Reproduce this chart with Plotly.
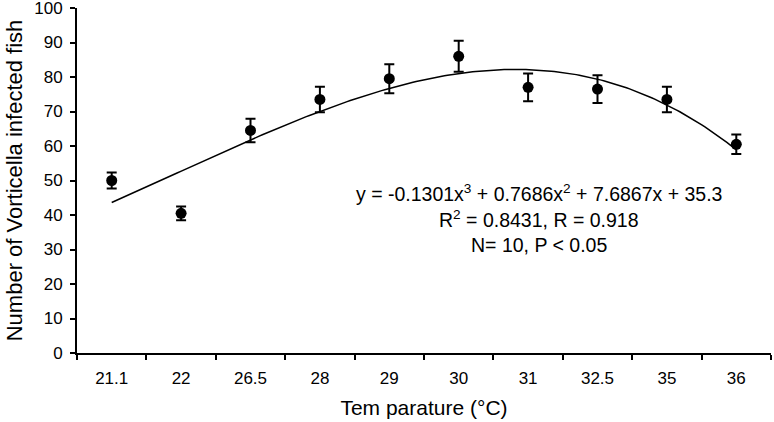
import numpy as np
import plotly.graph_objects as go

categories = ["21.1", "22", "26.5", "28", "29", "30", "31", "32.5", "35", "36"]
infected = [50, 40.5, 64.5, 73.5, 79.5, 86, 77, 76.5, 73.5, 60.5]
errors = [2.3, 2.0, 3.4, 3.7, 4.2, 4.5, 4.0, 4.0, 3.7, 2.8]
# cubic trendline coefficients as printed on the chart (x = category index 1..10)
trend_coefs = [-0.1301, 0.7686, 7.6867, 35.3]

xi = np.arange(1, len(categories) + 1)
xfit = np.linspace(1, len(categories), 200)
yfit = np.polyval(trend_coefs, xfit)

font = "Liberation Sans, Arial, sans-serif"

fig = go.Figure()
fig.add_trace(go.Scatter(x=xfit, y=yfit, mode="lines",
                         line=dict(color="black", width=1.5), hoverinfo="skip"))
fig.add_trace(go.Scatter(x=xi, y=infected, mode="markers",
                         marker=dict(color="black", size=11),
                         error_y=dict(type="data", array=errors, color="black",
                                      thickness=2, width=5)))

fig.update_layout(
    width=774, height=422,
    margin=dict(l=77, r=3, t=8, b=69),
    paper_bgcolor="white", plot_bgcolor="white",
    showlegend=False,
    font=dict(family=font, color="black", size=13),
    xaxis=dict(range=[0.5, 10.5], tickmode="array", tickvals=list(xi),
               ticktext=categories, ticks="", showgrid=False, zeroline=False,
               showline=True, linecolor="black", linewidth=2,
               tickfont=dict(size=17), automargin=False, ticklabeloverflow="allow",
               ticklabelstandoff=9,
               minor=dict(tick0=0.5, dtick=1, ticks="outside", ticklen=5,
                          tickcolor="black", tickwidth=2, showgrid=False),
               title=dict(text="Tem parature (°C)", font=dict(size=21), standoff=13)),
    yaxis=dict(range=[0, 100], tickmode="linear", tick0=0, dtick=10,
               ticks="outside", ticklen=5, tickwidth=2, tickcolor="black",
               showgrid=False, zeroline=False, showline=True, automargin=False,
               ticklabeloverflow="allow", ticklabelstandoff=4,
               linecolor="black", linewidth=2, tickfont=dict(size=17),
               title=dict(text="Number of Vorticella infected fish",
                          font=dict(size=22), standoff=6)),
)

ann_x = 7.15
fig.add_annotation(x=ann_x, y=46.5, xref="x", yref="y", showarrow=False,
                   text="y = -0.1301x<sup>3</sup> + 0.7686x<sup>2</sup> + 7.6867x + 35.3",
                   font=dict(size=19.5))
fig.add_annotation(x=ann_x, y=38.8, xref="x", yref="y", showarrow=False,
                   text="R<sup>2</sup> = 0.8431, R = 0.918", font=dict(size=19.5))
fig.add_annotation(x=ann_x, y=31.2, xref="x", yref="y", showarrow=False,
                   text="N= 10, P < 0.05", font=dict(size=19.5))

fig.write_html("out.html", config={"displayModeBar": False},
               post_script="document.body.style.margin='0';")
